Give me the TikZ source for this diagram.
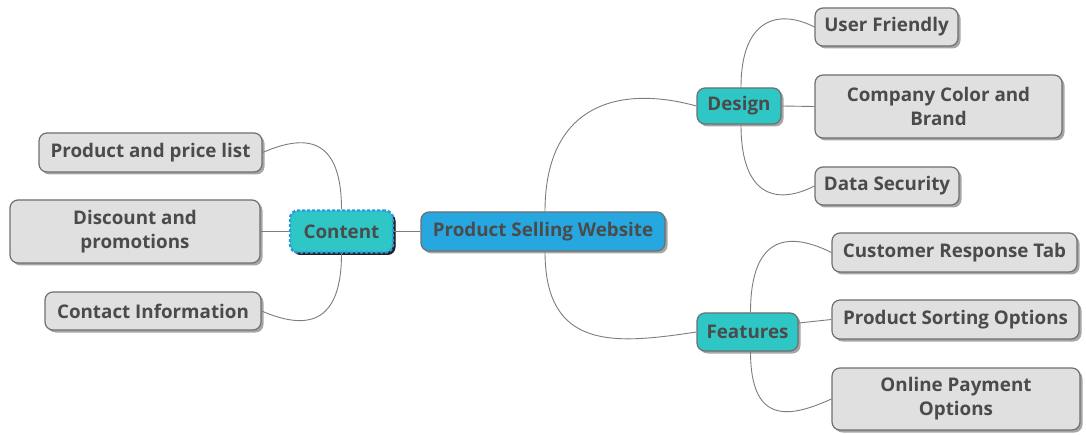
\documentclass[tikz,border=0pt]{standalone}
\usepackage{fontspec}
\setmainfont{Open Sans}
\usetikzlibrary{shadows}
\definecolor{rootblue}{HTML}{26A7DF}
\definecolor{teal}{HTML}{2EC7C6}
\definecolor{leafgray}{HTML}{E0E0E0}
\definecolor{edgegray}{HTML}{6F6F6F}
\definecolor{txtgray}{HTML}{4B4B4B}
\definecolor{dashblue}{HTML}{2B98E2}
\tikzset{
  box/.style={draw=edgegray, line width=1.2pt, rounded corners=8pt, align=center,
    font=\fontsize{18.8}{24}\selectfont\bfseries, text=txtgray, inner sep=0pt,
    drop shadow={shadow xshift=2.5pt, shadow yshift=-2.5pt, fill=black, opacity=0.35}},
  leaf/.style={box, fill=leafgray},
  topic/.style={box, fill=teal},
  conn/.style={draw=edgegray!90, line width=0.9pt},
}
\begin{document}
\begin{tikzpicture}[x=1pt,y=-1pt]
\useasboundingbox[fill=white] (0,0) rectangle (1086,435);
% central topic
\node[box, fill=rootblue, minimum width=244pt, minimum height=39pt] (root) at (543,231.5) {Product Selling Website};
% main topics
\node[topic, minimum width=103pt, minimum height=42pt, draw=dashblue, line width=2.4pt,
  dash pattern=on 3pt off 2pt,
  drop shadow={shadow xshift=2.5pt, shadow yshift=-2.5pt, fill=black, opacity=0.8}] (content) at (341.5,231.5) {Content};
\node[topic, minimum width=84pt, minimum height=36pt] (design) at (739,106) {Design};
\node[topic, minimum width=101pt, minimum height=38pt] (features) at (747.5,332) {Features};
% design branch
\node[leaf, minimum width=143pt, minimum height=38pt] (uf) at (886.5,27) {User Friendly};
\node[leaf, minimum width=247pt, minimum height=63pt] (brand) at (938.5,106.5) {Company Color and\\Brand};
\node[leaf, minimum width=144pt, minimum height=38pt] (sec) at (887,186) {Data Security};
% features branch
\node[leaf, minimum width=245pt, minimum height=39pt] (tab) at (954.5,252.5) {Customer Response Tab};
\node[leaf, minimum width=247pt, minimum height=39pt] (sort) at (955.5,319.5) {Product Sorting Options};
\node[leaf, minimum width=248pt, minimum height=62pt] (pay) at (956,399) {Online Payment\\Options};
% content branch
\node[leaf, minimum width=223pt, minimum height=39pt] (price) at (150.5,152.5) {Product and price list};
\node[leaf, minimum width=250pt, minimum height=63pt] (disc) at (135,231.5) {Discount and\\promotions};
\node[leaf, minimum width=216pt, minimum height=38pt] (contact) at (153,311) {Contact Information};
% connectors
\draw[conn] (content.east) -- (root.west);
\draw[conn] ([xshift=2pt]root.north) .. controls +(0,-105) and +(-80,-22) .. (design.west);
\draw[conn] ([xshift=2pt]root.south) .. controls +(0,100) and +(-80,12) .. (features.west);
\draw[conn] ([xshift=2pt]design.north) .. controls +(0,-70) and +(-35,-18) .. (uf.west);
\draw[conn] (design.east) -- (brand.west);
\draw[conn] ([xshift=2pt]design.south) .. controls +(0,75) and +(-35,18) .. (sec.west);
\draw[conn] ([xshift=3pt]features.north) .. controls +(0,-80) and +(-40,-20) .. (tab.west);
\draw[conn] ([yshift=9pt]features.east) -- (sort.west);
\draw[conn] ([xshift=3pt]features.south) .. controls +(0,75) and +(-40,18) .. (pay.west);
\draw[conn] (content.north) .. controls +(0,-80) and +(35,-15) .. (price.east);
\draw[conn] (disc.east) -- (content.west);
\draw[conn] (content.south) .. controls +(0,80) and +(35,15) .. (contact.east);
\end{tikzpicture}
\end{document}
